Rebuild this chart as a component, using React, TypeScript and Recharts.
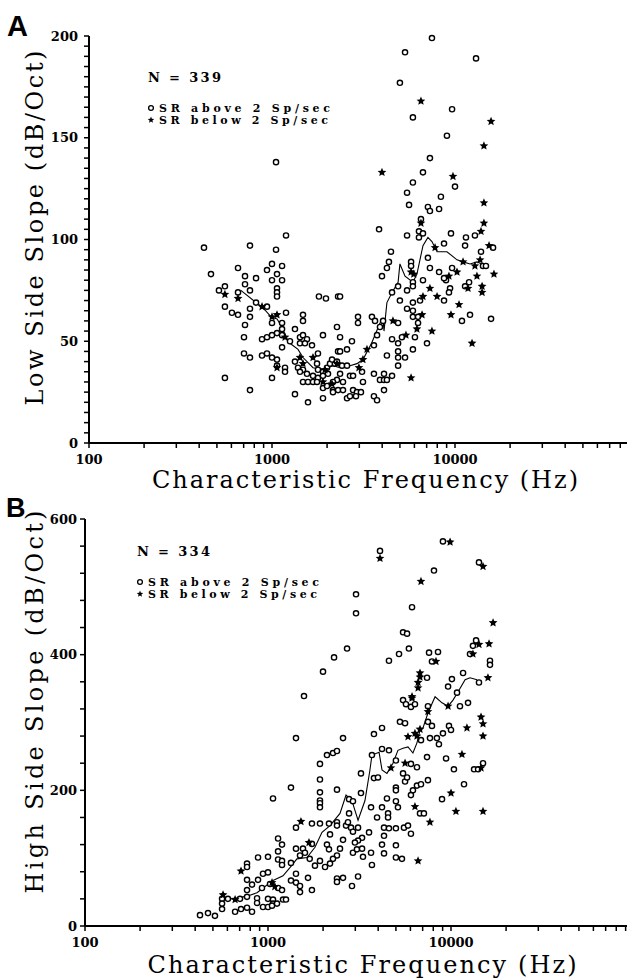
import React from 'react';
import { ScatterChart, Scatter, XAxis, YAxis } from 'recharts';

type Pt = [number, number];

// shared log frequency axis (Hz)
const FREQ_TICKS = [
  100, 200, 300, 400, 500, 600, 700, 800, 900,
  1000, 2000, 3000, 4000, 5000, 6000, 7000, 8000, 9000,
  10000, 20000, 30000, 40000, 50000, 60000, 70000, 80000, 90000, 100000,
];
const FREQ_LABELS = [100, 1000, 10000];

const LOW_TICKS = [
  0, 5, 10, 15, 20, 25, 30, 35, 40, 45, 50, 55, 60, 65, 70, 75, 80, 85, 90, 95, 100,
  105, 110, 115, 120, 125, 130, 135, 140, 145, 150, 155, 160, 165, 170, 175, 180, 185, 190, 195, 200,
];
const LOW_LABELS = [0, 50, 100, 150, 200];
const HIGH_TICKS = [0, 40, 80, 120, 160, 200, 240, 280, 320, 360, 400, 440, 480, 520, 560, 600];
const HIGH_LABELS = [0, 200, 400, 600];

// Panel A: low side slope, [CF Hz, dB/Oct]
const lowAbove: Pt[] = [
  [425, 96], [758, 97], [1193, 102], [1052, 138], [1052, 95], [464, 83], [652, 86], [712, 82], [818, 81], [939, 85],
  [1000, 88], [1135, 87], [1065, 83], [1000, 80], [1135, 80], [712, 78], [758, 75], [1065, 76], [1065, 74], [1065, 72],
  [513, 75], [553, 77], [652, 74], [553, 67], [604, 64], [652, 63], [758, 66], [758, 62], [818, 69], [939, 67],
  [1193, 64], [1477, 63], [1477, 60], [1805, 72], [1972, 71], [2296, 72], [712, 58], [703, 52], [1000, 59], [1135, 59],
  [1135, 56], [1335, 56], [882, 51], [939, 52], [1000, 53], [1065, 54], [1135, 53], [1254, 50], [1422, 52], [1477, 53],
  [1553, 51], [1422, 49], [1514, 49], [1654, 48], [1899, 53], [2265, 57], [2296, 45], [703, 44], [758, 42], [882, 43],
  [939, 44], [1000, 42], [1135, 47], [1783, 44], [1065, 41], [1065, 38], [1178, 37], [1178, 35], [1335, 40], [1387, 37],
  [1477, 36], [1422, 35], [1553, 34], [1762, 39], [1783, 36], [1899, 35], [1998, 37], [2075, 39], [2208, 39], [1675, 33],
  [1783, 32], [1899, 33], [2023, 34], [1477, 30], [1573, 30], [1675, 30], [1762, 30], [1899, 27], [1998, 28], [2154, 26],
  [2296, 26], [553, 32], [1000, 32], [758, 26], [1335, 24], [1573, 20], [1899, 22],
  [7295, 140], [6683, 133], [10000, 126], [5888, 128], [5470, 123], [5610, 117], [8375, 121], [7112, 116], [7295, 114], [8185, 115],
  [6516, 110], [12850, 102], [3846, 105], [5470, 102], [6353, 104], [6353, 101], [6683, 103], [9506, 103], [11480, 101], [11350, 97],
  [16140, 96], [8710, 98], [13870, 94], [4467, 94], [7112, 91], [4355, 89], [4246, 86], [3990, 82], [5754, 89], [5754, 87],
  [7295, 86], [8185, 84], [9638, 86], [14220, 87], [14760, 87], [8930, 80], [8710, 81], [6683, 80], [5888, 79], [5888, 77],
  [5470, 75], [4887, 77], [4529, 74], [11350, 77], [11940, 79], [9397, 76], [9268, 74], [6442, 70], [8710, 70], [5000, 70],
  [5888, 69], [5470, 66], [5888, 65], [5888, 62], [6281, 62], [12080, 63], [10914, 60], [15740, 61], [2355, 72], [2951, 62],
  [2951, 59], [3516, 62], [3656, 60], [4046, 60], [4887, 59], [3890, 57], [2355, 52], [2735, 50], [3750, 53], [4529, 51],
  [5129, 52], [6281, 59], [6040, 52], [7031, 49], [4887, 49], [2355, 45], [2570, 46], [3606, 48], [5888, 46], [4887, 45],
  [4887, 42], [4246, 43], [5333, 42], [2128, 41], [2265, 40], [2414, 38], [2570, 38], [4887, 38], [3105, 35], [2667, 33],
  [2773, 33], [2355, 34], [2265, 31], [2443, 30], [3606, 34], [4093, 34], [4529, 33], [3890, 31], [4093, 31], [4246, 31],
  [3141, 30], [2154, 30], [2154, 25], [2443, 26], [2773, 26], [2912, 25], [3062, 25], [2570, 22], [2667, 23], [2877, 23],
  [3606, 23], [3750, 21], [4093, 26],
  [7482, 199], [5333, 192], [13030, 189], [5000, 177], [9638, 164], [5888, 160], [9036, 151],
];
const lowBelow: Pt[] = [
  [553, 73], [652, 71], [882, 67], [1065, 63], [1000, 62], [1178, 52], [1422, 42], [1675, 42], [1065, 37], [1477, 39],
  [1948, 36], [2265, 39], [1899, 30], [2128, 29], [3990, 133], [9750, 131], [14390, 118], [6516, 108], [14390, 108], [13870, 104],
  [15350, 97], [7780, 96], [5754, 84], [5950, 83], [9268, 82], [10256, 84], [11066, 89], [12850, 87], [13710, 90], [13180, 82],
  [11780, 76], [14060, 77], [14060, 74], [7295, 76], [6683, 72], [7980, 72], [10520, 68], [6607, 63], [9506, 63], [4581, 60],
  [5395, 53], [6194, 56], [7482, 55], [12390, 49], [3304, 46], [3141, 41], [2985, 37], [5754, 32], [16330, 83], [6516, 168],
  [15740, 158], [14390, 146],
];
const lowMean: Pt[] = [
  [676, 75], [818, 69], [882, 67], [988, 62], [1065, 61], [1135, 57], [1193, 52], [1254, 49], [1387, 46], [1477, 42],
  [1675, 37], [1899, 36], [2154, 38], [2355, 37], [2667, 38], [2912, 39], [3141, 41], [3500, 49], [3890, 59], [4046, 61],
  [4093, 55], [4246, 69], [4529, 74], [4887, 79], [5000, 88], [5333, 82], [5888, 79], [6194, 83], [6683, 97], [7112, 101],
  [7482, 99], [7980, 94], [9036, 94], [10256, 90], [11066, 89], [12080, 88], [13180, 89], [14060, 88],
];

// Panel B: high side slope, [CF Hz, dB/Oct]
const highAbove: Pt[] = [
  [1573, 339], [1422, 277], [2100, 252], [1923, 239], [1923, 216], [1335, 204], [1923, 197], [1923, 185], [1923, 181], [1923, 175],
  [1065, 188], [1422, 145], [1738, 151], [1923, 151], [2154, 151], [1135, 129], [1193, 120], [882, 101], [1000, 102], [1135, 110],
  [1422, 114], [1553, 114], [1738, 121], [1135, 98], [1193, 96], [1193, 90], [1335, 93], [1496, 104], [1592, 108], [1690, 99],
  [1806, 89], [768, 92], [768, 87], [1422, 77], [939, 77], [1000, 79], [768, 68], [882, 68], [818, 61], [927, 56],
  [1026, 62], [768, 53], [1135, 56], [1193, 53], [1335, 67], [1422, 64], [1496, 59], [1496, 50], [1654, 71], [1738, 53],
  [871, 41], [871, 34], [1000, 40], [1065, 39], [1065, 33], [1208, 39], [1254, 39], [939, 28], [1000, 28], [561, 40],
  [561, 33], [561, 25], [604, 40], [703, 40], [768, 43], [661, 21], [712, 25], [768, 27], [818, 21], [425, 16],
  [470, 19], [513, 15], [1052, 30], [1120, 33],
  [5470, 333], [5675, 327], [6040, 323], [6353, 327], [10789, 344], [11194, 324], [12390, 329], [7482, 324], [5260, 301], [5610, 299],
  [7482, 301], [7870, 295], [3793, 283], [4198, 292], [2570, 277], [9750, 295], [10000, 289], [9036, 284], [8375, 277], [8590, 268],
  [7674, 277], [6855, 274], [2265, 255], [2382, 258], [3698, 252], [4198, 261], [4581, 259], [5000, 244], [6040, 239], [6516, 234],
  [7396, 249], [9397, 247], [10375, 231], [13370, 231], [14060, 231], [14960, 240], [3221, 225], [3793, 218], [3990, 219], [5470, 225],
  [5610, 213], [5754, 219], [2382, 201], [3221, 196], [5000, 204], [5000, 200], [6516, 207], [6855, 209], [6194, 200], [6040, 193],
  [7482, 215], [11780, 209], [8930, 187], [4467, 188], [5000, 184], [5129, 175], [2773, 187], [2912, 184], [2773, 166], [3656, 175],
  [4198, 175], [3944, 160], [4529, 166], [4529, 160], [6771, 166], [7112, 166], [2182, 135], [2382, 153], [2382, 148], [2669, 148],
  [2735, 153], [2843, 145], [2570, 127], [2912, 139], [3105, 145], [3565, 138], [4305, 145], [4581, 144], [5000, 144], [5534, 145],
  [5821, 148], [6040, 136], [4305, 133], [3266, 130], [3105, 126], [2985, 123], [2100, 120], [2154, 113], [2382, 104], [2265, 99],
  [2182, 92], [2474, 114], [2912, 108], [3062, 113], [3266, 114], [3304, 102], [3656, 108], [4198, 120], [4305, 107], [5000, 119],
  [5000, 101], [5395, 99], [3698, 90], [2382, 70], [2570, 71], [2382, 65], [3105, 73], [2877, 59], [1923, 96], [2050, 87],
  [9036, 567], [4093, 553], [14220, 536], [8072, 524], [3027, 489], [6124, 470], [3027, 461], [5470, 433], [5754, 431], [13710, 421],
  [13180, 413], [2704, 409], [5888, 409], [2296, 396], [5200, 401], [4581, 391], [7586, 403], [8492, 404], [7870, 390], [12700, 401],
  [16330, 391], [16330, 385], [1998, 375], [7396, 366], [10116, 364], [11641, 373], [14220, 359], [9638, 353],
];
const highBelow: Pt[] = [
  [568, 46], [661, 39], [712, 81], [1514, 154], [1675, 123], [1052, 64], [1090, 58], [6607, 96], [6124, 336], [7482, 316],
  [9638, 324], [14590, 308], [14960, 298], [12220, 292], [14960, 280], [5821, 279], [6516, 280], [6353, 284], [6771, 290], [4699, 233],
  [5610, 240], [11480, 253], [14590, 233], [10000, 196], [6353, 176], [7674, 153], [10641, 169], [14960, 169], [9886, 566], [4093, 542],
  [14960, 530], [6855, 508], [16980, 447], [14220, 415], [16140, 416], [8279, 390], [13180, 401], [6771, 373], [6771, 367], [6607, 359],
  [6607, 351], [15920, 366], [6124, 338],
];
const highMean: Pt[] = [
  [561, 41], [644, 40], [768, 44], [871, 49], [939, 56], [1065, 67], [1208, 74], [1318, 86], [1439, 99], [1633, 101],
  [1806, 116], [1973, 138], [2182, 148], [2474, 166], [2669, 193], [2877, 185], [2951, 175], [3105, 156], [3388, 185], [3606, 230],
  [3698, 252], [4046, 256], [4198, 230], [4467, 225], [4819, 240], [5129, 259], [5470, 262], [5821, 264], [6194, 255], [6516, 270],
  [6771, 289], [7031, 292], [7482, 314], [7674, 321], [8185, 338], [8930, 329], [9638, 324], [10256, 333], [10914, 345], [11940, 363],
  [12700, 366], [13870, 363],
];

const rows = (pts: Pt[]) => pts.map(([f, v]) => ({ f, v }));

const SERIF = 'DejaVu Serif';
const TICK = 5;

const OpenCircle = (props: any) => (
  <circle cx={props.cx} cy={props.cy} r={2.6} fill="#fff" stroke="#000" strokeWidth={1.4} />
);

const starPath = (cx: number, cy: number, ro: number, ri: number) => {
  let d = '';
  for (let i = 0; i < 10; i++) {
    const r = i % 2 === 0 ? ro : ri;
    const a = -Math.PI / 2 + (i * Math.PI) / 5;
    d += (i === 0 ? 'M' : 'L') + (cx + r * Math.cos(a)).toFixed(2) + ',' + (cy + r * Math.sin(a)).toFixed(2);
  }
  return d + 'Z';
};

const Star = (props: any) => <path d={starPath(props.cx, props.cy, 4.6, 2.1)} fill="#000" />;
const NoDot = () => <g />;

// tick lines are drawn by recharts; these only place the labels
const FreqTick = (props: any) => {
  const { x, y, payload } = props;
  if (!FREQ_LABELS.includes(payload.value)) return <g />;
  return (
    <text x={x} y={y + 16} textAnchor="middle" fontFamily={SERIF} fontWeight="bold" fontSize={13} fill="#000">
      {payload.value}
    </text>
  );
};

const slopeTick = (labels: number[], gap: number) => (props: any) => {
  const { x, y, payload } = props;
  if (!labels.includes(payload.value)) return <g />;
  return (
    <text x={x - gap} y={y} dy="0.36em" textAnchor="end" fontFamily={SERIF} fontWeight="bold" fontSize={13} fill="#000">
      {payload.value}
    </text>
  );
};

interface PanelProps {
  above: Pt[];
  below: Pt[];
  mean: Pt[];
  yMax: number;
  yTicks: number[];
  yLabels: number[];
  height: number;
  margin: { top: number; right: number; bottom: number; left: number };
  labelGap: number;
}

const Panel: React.FC<PanelProps> = ({ above, below, mean, yMax, yTicks, yLabels, height, margin, labelGap }) => (
  <ScatterChart width={643} height={height} margin={margin}>
    <XAxis
      type="number"
      dataKey="f"
      scale="log"
      domain={[100, 100000]}
      ticks={FREQ_TICKS}
      interval={0}
      tickSize={TICK}
      tickMargin={0}
      tickLine={{ stroke: '#000', strokeWidth: 1.5 }}
      tick={<FreqTick />}
      axisLine={{ stroke: '#000', strokeWidth: 2 }}
      height={30}
    />
    <YAxis
      type="number"
      dataKey="v"
      domain={[0, yMax]}
      ticks={yTicks}
      interval={0}
      tickSize={TICK}
      tickMargin={0}
      tickLine={{ stroke: '#000', strokeWidth: 1.5 }}
      tick={slopeTick(yLabels, labelGap)}
      axisLine={{ stroke: '#000', strokeWidth: 2 }}
      width={60}
    />
    <Scatter data={rows(mean)} line={{ stroke: '#000', strokeWidth: 1.1 }} shape={NoDot} isAnimationActive={false} />
    <Scatter data={rows(above)} shape={OpenCircle} isAnimationActive={false} />
    <Scatter data={rows(below)} shape={Star} isAnimationActive={false} />
  </ScatterChart>
);

const Legend: React.FC<{ x: number; y: number; n: number }> = ({ x, y, n }) => (
  <g fontFamily={SERIF} fontWeight="bold" fill="#000">
    <text x={x} y={y} fontSize={13} textLength={73} lengthAdjust="spacing">{`N = ${n}`}</text>
    <circle cx={x + 3} cy={y + 26} r={2.4} fill="#fff" stroke="#000" strokeWidth={1.3} />
    <text x={x + 11} y={y + 30} fontSize={11} textLength={171} lengthAdjust="spacing">SR above 2 Sp/sec</text>
    <path d={starPath(x + 3, y + 38, 3.4, 1.5)} fill="#000" />
    <text x={x + 11} y={y + 42} fontSize={11} textLength={169} lengthAdjust="spacing">SR below 2 Sp/sec</text>
  </g>
);

export default function App() {
  return (
    <div style={{ position: 'absolute', left: 0, top: 0, width: 627, height: 978, overflow: 'hidden', background: '#fff' }}>
      <div style={{ position: 'absolute', left: 0, top: 0 }}>
        <Panel
          above={lowAbove}
          below={lowBelow}
          mean={lowMean}
          yMax={200}
          yTicks={LOW_TICKS}
          yLabels={LOW_LABELS}
          height={480}
          margin={{ top: 36, right: 5, bottom: 7, left: 29 }}
          labelGap={6}
        />
      </div>
      <div style={{ position: 'absolute', left: 0, top: 480 }}>
        <Panel
          above={highAbove}
          below={highBelow}
          mean={highMean}
          yMax={600}
          yTicks={HIGH_TICKS}
          yLabels={HIGH_LABELS}
          height={498}
          margin={{ top: 39, right: 9, bottom: 22, left: 25 }}
          labelGap={3}
        />
      </div>
      <svg width={627} height={978} style={{ position: 'absolute', left: 0, top: 0, pointerEvents: 'none' }}>
        <text x={7} y={36} fontFamily="Liberation Sans" fontWeight="bold" fontSize={29} fill="#000">A</text>
        <text x={6} y={517} fontFamily="Liberation Sans" fontWeight="bold" fontSize={27} fill="#000">B</text>

        <text transform="translate(43,228) rotate(-90)" textAnchor="middle" fontFamily={SERIF} fontSize={24}
          textLength={355} lengthAdjust="spacing" fill="#000">Low Side Slope (dB/Oct)</text>
        <text x={365} y={488} textAnchor="middle" fontFamily={SERIF} fontSize={24}
          textLength={426} lengthAdjust="spacing" fill="#000">Characteristic Frequency (Hz)</text>

        <text transform="translate(43,702) rotate(-90)" textAnchor="middle" fontFamily={SERIF} fontSize={24}
          textLength={383} lengthAdjust="spacing" fill="#000">High Side Slope (dB/Oct)</text>
        <text x={362} y={973} textAnchor="middle" fontFamily={SERIF} fontSize={24}
          textLength={429} lengthAdjust="spacing" fill="#000">Characteristic Frequency (Hz)</text>

        <Legend x={148} y={82} n={339} />
        <Legend x={137} y={556} n={334} />
      </svg>
    </div>
  );
}
